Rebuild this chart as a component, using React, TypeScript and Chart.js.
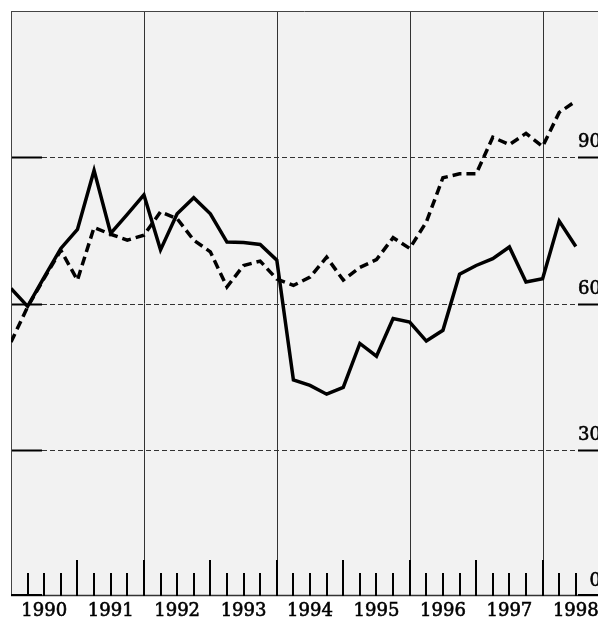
import { useEffect, useRef } from 'react';
import { Chart, registerables } from 'chart.js';

Chart.register(...registerables);

const quarters = [
  '1990Q1', '1990Q2', '1990Q3', '1990Q4',
  '1991Q1', '1991Q2', '1991Q3', '1991Q4',
  '1992Q1', '1992Q2', '1992Q3', '1992Q4',
  '1993Q1', '1993Q2', '1993Q3', '1993Q4',
  '1994Q1', '1994Q2', '1994Q3', '1994Q4',
  '1995Q1', '1995Q2', '1995Q3', '1995Q4',
  '1996Q1', '1996Q2', '1996Q3', '1996Q4',
  '1997Q1', '1997Q2', '1997Q3', '1997Q4',
  '1998Q1', '1998Q2', '1998Q3',
];

const solidSeries = [
  63.1, 59.4, 65.4, 71.3, 75.2, 87.3, 74.4, 78.3, 82.3, 71.0, 78.4, 81.7,
  78.4, 72.6, 72.5, 72.1, 68.9, 44.3, 43.2, 41.4, 42.8, 51.8, 49.2, 56.9,
  56.2, 52.3, 54.5, 66.0, 67.8, 69.2, 71.6, 64.4, 65.1, 76.9, 71.7,
];

const dashedSeries = [
  52.1, 59.3, 65.2, 70.9, 64.8, 75.6, 74.2, 73.0, 74.0, 78.8, 77.4, 73.0,
  70.6, 63.4, 67.8, 68.7, 65.0, 63.7, 65.4, 69.5, 64.8, 67.4, 69.0, 73.5,
  71.3, 76.7, 85.8, 86.6, 86.6, 94.1, 92.6, 94.9, 92.2, 99.2, 101.5,
];

const yearLabels = ['1990', '1991', '1992', '1993', '1994', '1995', '1996', '1997', '1998'];
const yTicks = [0, 30, 60, 90];
const fullLineYears = [1992, 1994, 1996, 1998];

const X_MIN = 1990;
const X_MAX = 1990 + 587 / 66.45;
const Y_MIN = 0;
const Y_MAX = 120;

const qToX = (q: string) => Number(q.slice(0, 4)) + (Number(q.slice(5)) - 1) / 4;

const FONT = '18px "DejaVu Serif", serif';

const drawText = (ctx: CanvasRenderingContext2D, s: string, px: number, py: number) => {
  ctx.fillText(s, px, py);
  ctx.strokeText(s, px, py);
};

const decor = {
  id: 'decor',
  beforeDraw(chart: any) {
    const { ctx, chartArea: a, scales } = chart;
    const x = scales.x;
    const y = scales.y;
    ctx.save();
    ctx.fillStyle = '#ffffff';
    ctx.fillRect(0, 0, chart.width, chart.height);
    ctx.fillStyle = '#f2f2f2';
    ctx.fillRect(a.left, a.top, a.right - a.left, a.bottom - a.top);

    // horizontal gridlines
    yTicks.forEach((v) => {
      if (v === 0) return;
      const py = Math.round(y.getPixelForValue(v)) + 0.5;
      ctx.strokeStyle = '#333';
      ctx.lineWidth = 1;
      ctx.setLineDash([5, 3]);
      ctx.beginPath();
      ctx.moveTo(a.left + 31, py);
      ctx.lineTo(a.right - 20, py);
      ctx.stroke();
      ctx.setLineDash([]);
      ctx.strokeStyle = '#000';
      ctx.lineWidth = 2;
      ctx.beginPath();
      ctx.moveTo(a.left, py);
      ctx.lineTo(a.left + 31, py);
      ctx.moveTo(a.right - 20, py);
      ctx.lineTo(a.right, py);
      ctx.stroke();
    });

    // vertical full lines
    ctx.strokeStyle = '#333';
    ctx.lineWidth = 1;
    fullLineYears.forEach((yr) => {
      const px = Math.round(x.getPixelForValue(yr)) + 0.5;
      ctx.beginPath();
      ctx.moveTo(px, a.top);
      ctx.lineTo(px, a.bottom);
      ctx.stroke();
    });

    // frame: top and left
    ctx.strokeStyle = '#444';
    ctx.lineWidth = 1;
    ctx.beginPath();
    ctx.moveTo(a.left, a.top + 0.5);
    ctx.lineTo(a.right, a.top + 0.5);
    ctx.moveTo(a.left + 0.5, a.top);
    ctx.lineTo(a.left + 0.5, a.bottom);
    ctx.stroke();
    ctx.restore();
  },
  afterDatasetsDraw(chart: any) {
    const { ctx, chartArea: a, scales } = chart;
    const x = scales.x;
    const y = scales.y;
    ctx.save();
    // bottom axis
    const by = a.bottom - 0.5;
    ctx.strokeStyle = '#333';
    ctx.lineWidth = 1.5;
    ctx.beginPath();
    ctx.moveTo(a.left, by);
    ctx.lineTo(a.right, by);
    ctx.stroke();
    ctx.strokeStyle = '#000';
    ctx.lineWidth = 2;
    ctx.beginPath();
    ctx.moveTo(a.left, a.bottom - 1);
    ctx.lineTo(a.left + 31, a.bottom - 1);
    ctx.moveTo(a.right - 20, a.bottom - 1);
    ctx.lineTo(a.right, a.bottom - 1);
    ctx.stroke();

    // ticks
    ctx.strokeStyle = '#000';
    ctx.lineWidth = 2;
    quarters.slice(1).forEach((q) => {
      const v = qToX(q);
      const isYear = Math.abs(v - Math.round(v)) < 1e-6;
      const len = isYear ? 36 : 23;
      const px = Math.round(x.getPixelForValue(v));
      ctx.beginPath();
      ctx.moveTo(px, a.bottom - len);
      ctx.lineTo(px, a.bottom);
      ctx.stroke();
    });

    // year labels
    ctx.fillStyle = '#000';
    ctx.strokeStyle = '#000';
    ctx.lineWidth = 0.6;
    ctx.font = FONT;
    ctx.textAlign = 'center';
    ctx.textBaseline = 'alphabetic';
    yearLabels.forEach((lab) => {
      const px = x.getPixelForValue(Number(lab) + 0.5);
      drawText(ctx, lab, px, 616);
    });

    // y labels on right
    ctx.textAlign = 'right';
    yTicks.forEach((v) => {
      const py = Math.round(y.getPixelForValue(v));
      drawText(ctx, String(v), a.right + 3, py - 10);
    });
    ctx.restore();
  },
};

export default function App() {
  const ref = useRef<HTMLCanvasElement | null>(null);
  useEffect(() => {
    if (!ref.current) return;
    const chart = new Chart(ref.current, {
      type: 'line',
      data: {
        datasets: [
          {
            data: quarters.map((q, i) => ({ x: qToX(q), y: solidSeries[i] })),
            borderColor: '#000',
            borderWidth: 3.5,
            pointRadius: 0,
            tension: 0,
            borderJoinStyle: 'miter',
            borderCapStyle: 'butt',
            fill: false,
          },
          {
            data: quarters.map((q, i) => ({ x: qToX(q), y: dashedSeries[i] })),
            borderColor: '#000',
            borderWidth: 3.5,
            borderDash: [9, 5],
            pointRadius: 0,
            tension: 0,
            borderJoinStyle: 'miter',
            borderCapStyle: 'butt',
            fill: false,
          },
        ],
      },
      options: {
        responsive: false,
        animation: false,
        devicePixelRatio: 1,
        layout: { padding: { left: 11, top: 11, right: 0, bottom: 21 } },
        plugins: { legend: { display: false }, tooltip: { enabled: false } },
        events: [],
        scales: {
          x: { type: 'linear', min: X_MIN, max: X_MAX, display: false },
          y: { type: 'linear', min: Y_MIN, max: Y_MAX, display: false },
        },
      },
      plugins: [decor],
    } as any);
    return () => chart.destroy();
  }, []);
  return (
    <div style={{ position: 'fixed', left: 0, top: 0, width: 598, height: 617, background: '#fff' }}>
      <canvas ref={ref} width={598} height={617} style={{ display: 'block', width: 598, height: 617 }} />
    </div>
  );
}
